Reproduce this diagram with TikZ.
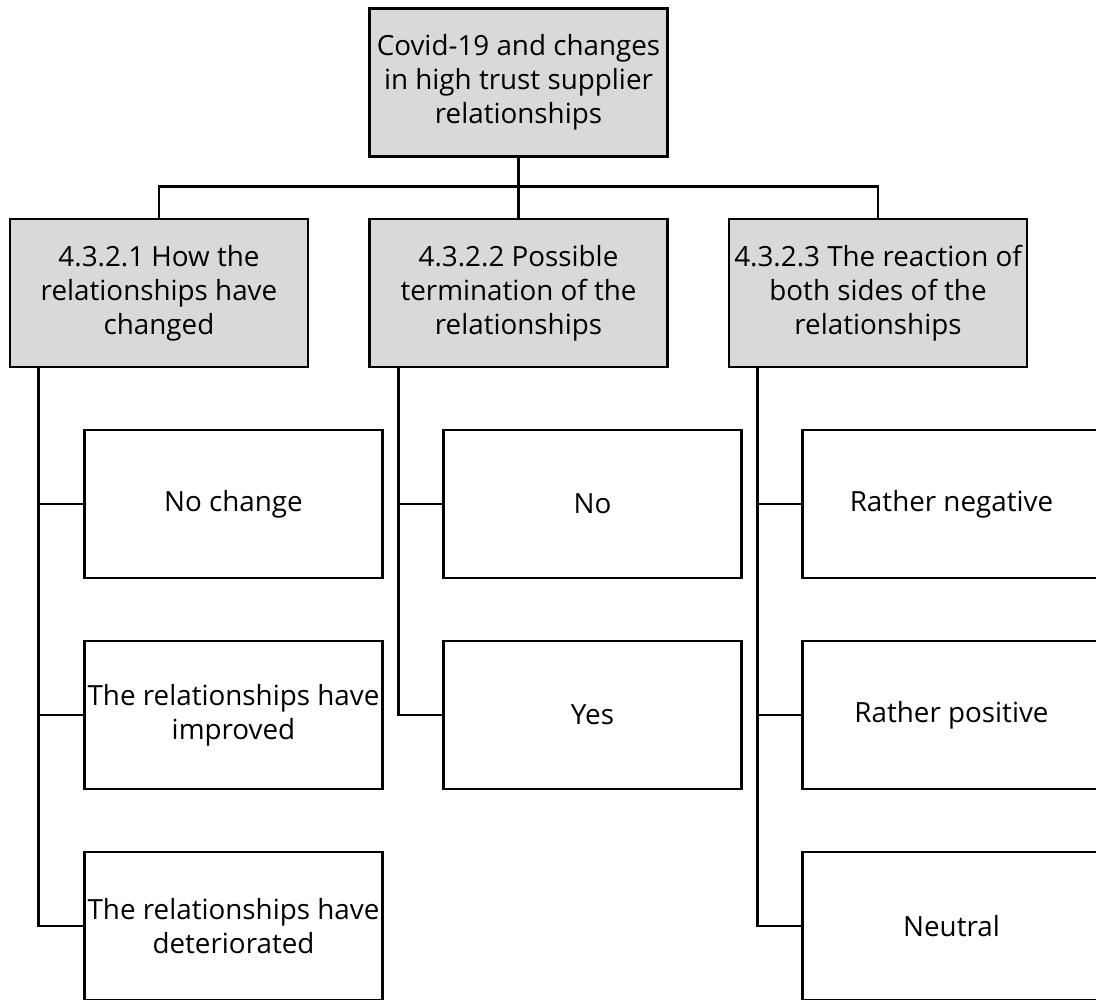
\documentclass[tikz,border=0pt]{standalone}
\usepackage{fontspec}
\setmainfont{Open Sans}[Ligatures=NoCommon]
\definecolor{headfill}{HTML}{D9D9D9}
\begin{document}
\begin{tikzpicture}[x=1pt,y=-1pt,
  line width=2.8pt,
  box/.style={draw=black, rectangle, minimum width=298pt, minimum height=148pt,
    inner sep=0pt, align=center, font=\fontsize{27.8}{33.8}\selectfont},
  headbox/.style={box, fill=headfill},
  leafbox/.style={box, fill=white},
  link/.style={draw=black, line width=2.8pt}]
  \useasboundingbox (0,0) rectangle (1096,1000);

  % root
  \node[headbox] (root) at (518.5,82.5) {Covid-19 and changes\\in high trust supplier\\relationships};

  % second level
  \node[headbox] (l1) at (159,293) {4.3.2.1 How the\\relationships have\\changed};
  \node[headbox] (l2) at (518.5,293) {4.3.2.2 Possible\\termination of the\\relationships};
  \node[headbox] (l3) at (878,293) {4.3.2.3 The reaction of\\both sides of the\\relationships};

  % leaves under 4.3.2.1
  \node[leafbox] (a1) at (233.5,504) {No change};
  \node[leafbox] (a2) at (233.5,715) {The relationships have\\improved};
  \node[leafbox] (a3) at (233.5,926) {The relationships have\\deteriorated};

  % leaves under 4.3.2.2
  \node[leafbox] (b1) at (592.5,504) {No};
  \node[leafbox] (b2) at (592.5,715) {Yes};

  % leaves under 4.3.2.3
  \node[leafbox] (c1) at (951.5,504) {Rather negative};
  \node[leafbox] (c2) at (951.5,715) {Rather positive};
  \node[leafbox] (c3) at (951.5,926) {Neutral};

  % root to second level
  \draw[link] (root.south) -- (l2.north);
  \draw[link] (l1.north) -- ++(0,-31) -| (l3.north);

  % trunk points below each heading
  \coordinate (t1) at ([xshift=30pt]l1.south west);
  \coordinate (t2) at ([xshift=30pt]l2.south west);
  \coordinate (t3) at ([xshift=30pt]l3.south west);

  % branches to leaves
  \draw[link] (t1) |- (a3.west);
  \draw[link] (t1 |- a1.west) -- (a1.west);
  \draw[link] (t1 |- a2.west) -- (a2.west);

  \draw[link] (t2) |- (b2.west);
  \draw[link] (t2 |- b1.west) -- (b1.west);

  \draw[link] (t3) |- (c3.west);
  \draw[link] (t3 |- c1.west) -- (c1.west);
  \draw[link] (t3 |- c2.west) -- (c2.west);
\end{tikzpicture}
\end{document}
